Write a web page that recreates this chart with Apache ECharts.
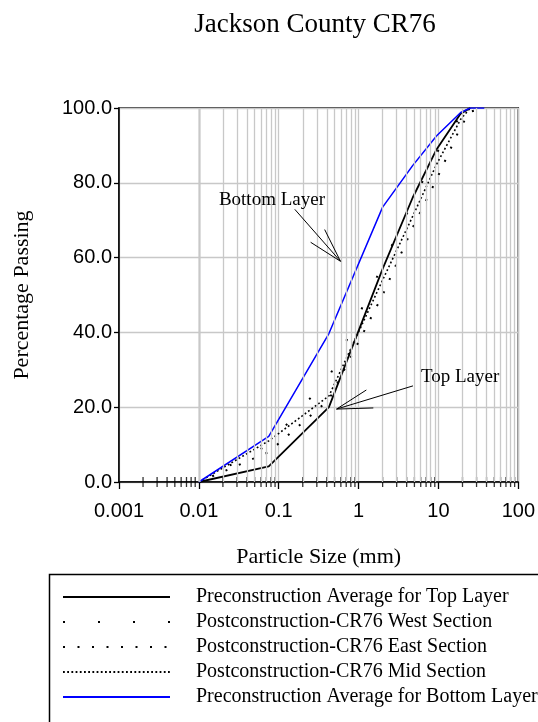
<!DOCTYPE html>
<html>
<head>
<meta charset="utf-8">
<script src="https://cdn.jsdelivr.net/npm/echarts@6/dist/echarts.min.js"></script>
<style>
html, body { margin: 0; padding: 0; background: #fff; }
#main { width: 538px; height: 722px; }
</style>
</head>
<body>
<div id="main"></div>
<script>
// sieve sizes (mm) and percent passing
var sizes = [0.01, 0.075, 0.425, 2, 4.75, 9.5, 19, 25, 37.5];
var topLayer    = [0, 4.2, 20, 57, 76, 89, 98.5, 100];
var westSection = [0, 10, 28, 58, 75, 88, 98, 100];
var eastSection = [0, 8, 22, 50, 68, 81, 95, 99, 100];
var midSection  = [0, 11, 23, 54, 71, 85, 97, 100];
var bottomLayer = [0, 12.2, 39.7, 73.5, 84.6, 92.6, 98.8, 100, 100];

var xTickLabels = ['0.001', '0.01', '0.1', '1', '10', '100'];
var minorSizes = [];
for (var d = -3; d < 2; d++) {
  for (var m = 2; m <= 9; m++) minorSizes.push(+(m * Math.pow(10, d)).toPrecision(3));
}

// annotation pointers, in data coordinates
var bottomArrow = [[[0.159, 72.9], [0.594, 59.0]], [[0.376, 67.5], [0.594, 59.0]], [[0.251, 64.1], [0.594, 59.0]]];
var topArrow = [[[4.8, 25.7], [0.53, 19.5]], [[1.25, 24.6], [0.53, 19.5]], [[1.53, 19.8], [0.53, 19.5]]];

function pairs(ys) {
  var out = [];
  for (var i = 0; i < ys.length; i++) out.push([sizes[i], ys[i]]);
  return out;
}

var serif = '"Liberation Serif", "Times New Roman", serif';
var sans = '"Liberation Sans", Arial, sans-serif';

var myChart = echarts.init(document.getElementById('main'));

var option = {
  backgroundColor: '#fff',
  animation: false,
  title: {
    text: 'Jackson County CR76',
    left: 310, top: 6, textAlign: 'center',
    textStyle: { fontFamily: serif, fontWeight: 'normal', fontSize: 27, color: '#000' }
  },
  graphic: [{
    type: 'rect', left: 47, top: 572, silent: true,
    shape: { width: 600, height: 200 },
    style: { fill: 'none', stroke: '#000', lineWidth: 1.5 }
  }],
  grid: {
    left: 119, right: 17, top: 108, bottom: 240,
    show: true, borderColor: '#000', borderWidth: 1.5
  },
  legend: {
    orient: 'vertical',
    left: 62, top: 587,
    padding: 0,
    itemGap: 5,
    itemWidth: 107, itemHeight: 14,
    itemStyle: { opacity: 0 },
    textStyle: { fontFamily: serif, fontSize: 20, lineHeight: 20, color: '#000', padding: [0, 0, 0, 21] },
    data: ['Preconstruction Average for Top Layer', 'Postconstruction-CR76 West Section',
           'Postconstruction-CR76 East Section', 'Postconstruction-CR76 Mid Section',
           'Preconstruction Average for Bottom Layer']
  },
  xAxis: {
    type: 'log', logBase: 10, min: 0.001, max: 100,
    name: 'Particle Size (mm)', nameLocation: 'middle', nameGap: 64,
    nameTextStyle: { fontFamily: serif, fontSize: 22, color: '#000' },
    axisLine: { lineStyle: { color: '#000', width: 1.5 } },
    axisTick: { show: true, length: 7, lineStyle: { color: '#000', width: 1.3 } },
    axisLabel: {
      fontFamily: sans, fontSize: 20, color: '#000', margin: 19,
      formatter: function (v) { return xTickLabels[Math.round(Math.log10(v)) + 3]; }
    },
    splitLine: { show: true, lineStyle: { color: '#c8c8c8', width: 1.3 } }
  },
  yAxis: {
    type: 'value', min: 0, max: 100, interval: 20,
    name: 'Percentage Passing', nameLocation: 'middle', nameGap: 86,
    nameTextStyle: { fontFamily: serif, fontSize: 22, color: '#000' },
    axisLine: { show: true, lineStyle: { color: '#000', width: 1.5 } },
    axisTick: { show: true, length: 5, lineStyle: { color: '#000', width: 1.3 } },
    axisLabel: {
      fontFamily: sans, fontSize: 20, color: '#000', margin: 7,
      formatter: function (v) { return v.toFixed(1); }
    },
    splitLine: { show: true, lineStyle: { color: '#c8c8c8', width: 1.3 } }
  },
  series: [
    {
      // minor grid lines + minor ticks across the x axis
      name: 'minor', type: 'scatter', z: 1, silent: true,
      symbol: 'rect', symbolSize: [1.3, 10], clip: false,
      itemStyle: { color: '#000' },
      data: minorSizes.map(function (v) { return [v, 0]; }),
      markLine: {
        silent: true, symbol: 'none', label: { show: false },
        lineStyle: { color: '#c8c8c8', width: 1.3, type: 'solid' },
        data: minorSizes.map(function (v) { return { xAxis: v }; })
      }
    },
    {
      name: 'Preconstruction Average for Top Layer', type: 'line', z: 3,
      symbol: 'none', lineStyle: { color: '#000', width: 1.8 }, itemStyle: { color: '#000' },
      data: pairs(topLayer)
    },
    {
      name: 'Postconstruction-CR76 West Section', type: 'line', z: 3,
      symbol: 'none', lineStyle: { color: '#000', width: 2, type: [2, 33] }, itemStyle: { color: '#000' },
      data: pairs(westSection)
    },
    {
      name: 'Postconstruction-CR76 East Section', type: 'line', z: 3,
      symbol: 'none', lineStyle: { color: '#000', width: 2, type: [2, 12.5] }, itemStyle: { color: '#000' },
      data: pairs(eastSection)
    },
    {
      name: 'Postconstruction-CR76 Mid Section', type: 'line', z: 3,
      symbol: 'none', lineStyle: { color: '#000', width: 1.6, type: [1.8, 2.4] }, itemStyle: { color: '#000' },
      data: pairs(midSection)
    },
    {
      name: 'Preconstruction Average for Bottom Layer', type: 'line', z: 3,
      symbol: 'none', lineStyle: { color: '#0000ff', width: 1.5 }, itemStyle: { color: '#0000ff' },
      data: pairs(bottomLayer)
    },
    {
      name: 'notes', type: 'line', z: 4, silent: true, data: [],
      markLine: {
        silent: true, symbol: 'none', label: { show: false },
        lineStyle: { color: '#000', width: 1, type: 'solid' },
        data: bottomArrow.concat(topArrow).map(function (seg) {
          return [{ coord: seg[0] }, { coord: seg[1] }];
        })
      },
      markPoint: {
        silent: true, symbol: 'circle', symbolSize: 0,
        label: { show: true, fontFamily: serif, fontSize: 19, color: '#000' },
        data: [
          { coord: [0.0822, 75.5], label: { formatter: 'Bottom Layer', position: 'inside' } },
          { coord: [6.04, 28.1], label: { formatter: 'Top Layer', position: 'right', distance: 0 } }
        ]
      }
    }
  ]
};

myChart.setOption(option, true);
</script>
</body>
</html>
